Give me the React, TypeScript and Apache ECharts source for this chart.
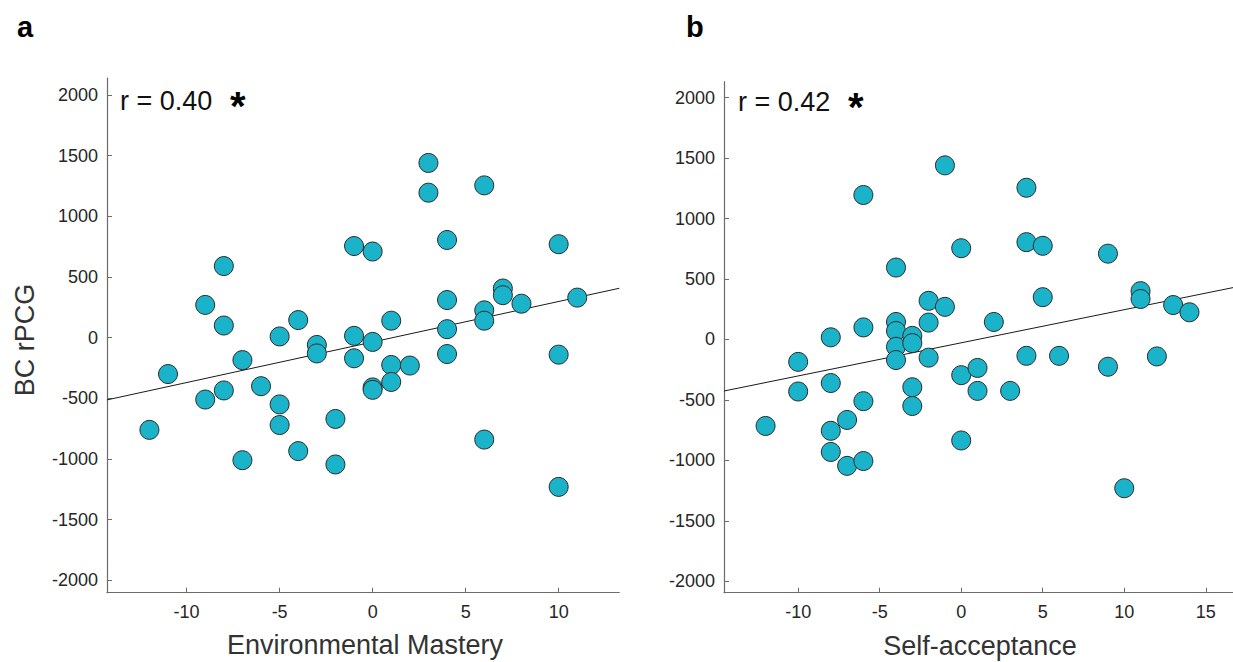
import React, { useEffect, useRef } from "react";
import * as echarts from "echarts";

// Panel a: Environmental Mastery vs BC rPCG
const envMasteryX = [-12, -11, -9, -9, -8, -8, -8, -7, -7, -6, -5, -5, -5, -4, -4, -3, -3, -2, -2, -1, -1, -1, 0, 0, 0, 0, 1, 1, 1, 2, 3, 3, 4, 4, 4, 4, 6, 6, 6, 6, 7, 7, 8, 10, 10, 10, 11];
const envMasteryY = [-760, -300, 270, -510, 590, 100, -435, -185, -1010, -400, 10, -550, -720, 145, -935, -60, -130, -670, -1045, 755, 15, -170, 710, -35, -410, -430, 140, -225, -365, -230, 1440, 1195, 805, 310, 70, -135, 1255, 225, 140, -840, 405, 350, 280, 770, -140, -1230, 330];
// fitted line (endpoints)
const fitAX = [-14.28, 13.26];
const fitAY = [-513, 407];

// Panel b: Self-acceptance vs BC rPCG
const selfAcceptX = [-12, -10, -10, -8, -8, -8, -8, -7, -7, -6, -6, -6, -6, -4, -4, -4, -4, -4, -3, -3, -3, -3, -2, -2, -2, -1, -1, 0, 0, 0, 1, 1, 2, 3, 4, 4, 4, 5, 5, 6, 9, 9, 10, 11, 11, 12, 13, 14];
const selfAcceptY = [-715, -185, -430, 18, -360, -755, -930, -665, -1045, 1195, 100, -510, -1005, 595, 145, 70, -60, -170, 30, -30, -395, -550, 320, 140, -150, 1440, 270, 755, -295, -835, -235, -425, 145, -425, 1255, 805, -135, 775, 350, -135, 710, -225, -1230, 400, 335, -140, 285, 225];
const fitBX = [-14.55, 16.7];
const fitBY = [-426, 430];

const xTicksA = [-10, -5, 0, 5, 10];
const xTicksB = [-10, -5, 0, 5, 10, 15];
const yTicks = [-2000, -1500, -1000, -500, 0, 500, 1000, 1500, 2000];

const yLabel = "BC rPCG";
const xLabelA = "Environmental Mastery";
const xLabelB = "Self-acceptance";
const statA = "r = 0.40";
const statB = "r = 0.42";

const FONT = "'Liberation Sans', Arial, Helvetica, sans-serif";
const TEXT = "#262626";
const AXIS = "#6b6b6b";
const DOT = "#1bb3c9";

const zip = (xs: number[], ys: number[]) => xs.map((x, i) => [x, ys[i]]);
const plain = (v: number) => String(v);

function xAxisCfg(gridIndex: number, min: number, max: number, ticks: number[]) {
  return {
    type: "value",
    gridIndex,
    min,
    max,
    splitLine: { show: false },
    axisLine: { show: true, onZero: false, lineStyle: { color: AXIS, width: 1.2 } },
    axisTick: { show: true, inside: true, length: 5, customValues: ticks, lineStyle: { color: AXIS } },
    axisLabel: { customValues: ticks, formatter: plain, color: TEXT, fontSize: 18, fontFamily: FONT, margin: 10 },
  };
}
function yAxisCfg(gridIndex: number, min: number, max: number) {
  return {
    type: "value",
    gridIndex,
    min,
    max,
    splitLine: { show: false },
    axisLine: { show: true, onZero: false, lineStyle: { color: AXIS, width: 1.2 } },
    axisTick: { show: true, inside: true, length: 5, customValues: yTicks, lineStyle: { color: AXIS } },
    axisLabel: { customValues: yTicks, formatter: plain, color: TEXT, fontSize: 18, fontFamily: FONT, margin: 9 },
  };
}

function scatterSeries(idx: number, data: number[][]) {
  return {
    type: "scatter",
    xAxisIndex: idx,
    yAxisIndex: idx,
    data,
    symbol: "circle",
    symbolSize: 19,
    itemStyle: { color: DOT, borderColor: "#2b2b2b", borderWidth: 1, opacity: 1 },
    z: 3,
  };
}
function lineSeries(idx: number, data: number[][]) {
  return {
    type: "line",
    xAxisIndex: idx,
    yAxisIndex: idx,
    data,
    symbol: "none",
    lineStyle: { color: "#1a1a1a", width: 1 },
    z: 2,
  };
}

export default function App() {
  const ref = useRef<HTMLDivElement>(null);
  useEffect(() => {
    document.body.style.margin = "0";
    const chart = echarts.init(ref.current!, undefined, { renderer: "svg" });
    chart.setOption({
      animation: false,
      backgroundColor: "#ffffff",
      grid: [
        { left: 107, top: 78, width: 512.3, height: 514.7 },
        { left: 724, top: 81.7, width: 512, height: 511 },
      ],
      xAxis: [xAxisCfg(0, -14.28, 13.26, xTicksA), xAxisCfg(1, -14.55, 16.67, xTicksB)],
      yAxis: [yAxisCfg(0, -2102, 2140), yAxisCfg(1, -2094, 2132)],
      series: [
        lineSeries(0, zip(fitAX, fitAY)),
        scatterSeries(0, zip(envMasteryX, envMasteryY)),
        lineSeries(1, zip(fitBX, fitBY)),
        scatterSeries(1, zip(selfAcceptX, selfAcceptY)),
      ],
      graphic: [
        { type: "text", left: 17, top: 12, style: { text: "a", font: `bold 29px ${FONT}`, fill: "#000" } },
        { type: "text", left: 686, top: 12, style: { text: "b", font: `bold 29px ${FONT}`, fill: "#000" } },
        { type: "text", x: 120, y: 101, style: { text: statA, font: `27px ${FONT}`, fill: "#111", verticalAlign: "middle" } },
        { type: "text", x: 230, y: 106, style: { text: "*", font: `bold 40px ${FONT}`, fill: "#000", verticalAlign: "middle" } },
        { type: "text", x: 738, y: 102, style: { text: statB, font: `27px ${FONT}`, fill: "#111", verticalAlign: "middle" } },
        { type: "text", x: 848, y: 107, style: { text: "*", font: `bold 40px ${FONT}`, fill: "#000", verticalAlign: "middle" } },
        { type: "text", x: 25, y: 340, rotation: Math.PI / 2, style: { text: yLabel, font: `27px ${FONT}`, fill: "#333", align: "center", verticalAlign: "middle" } },
        { type: "text", x: 365, y: 645, style: { text: xLabelA, font: `27px ${FONT}`, fill: "#333", align: "center", verticalAlign: "middle" } },
        { type: "text", x: 980, y: 646, style: { text: xLabelB, font: `27px ${FONT}`, fill: "#333", align: "center", verticalAlign: "middle" } },
      ],
    });
    return () => chart.dispose();
  }, []);
  return <div ref={ref} style={{ width: 1233, height: 662 }} />;
}
